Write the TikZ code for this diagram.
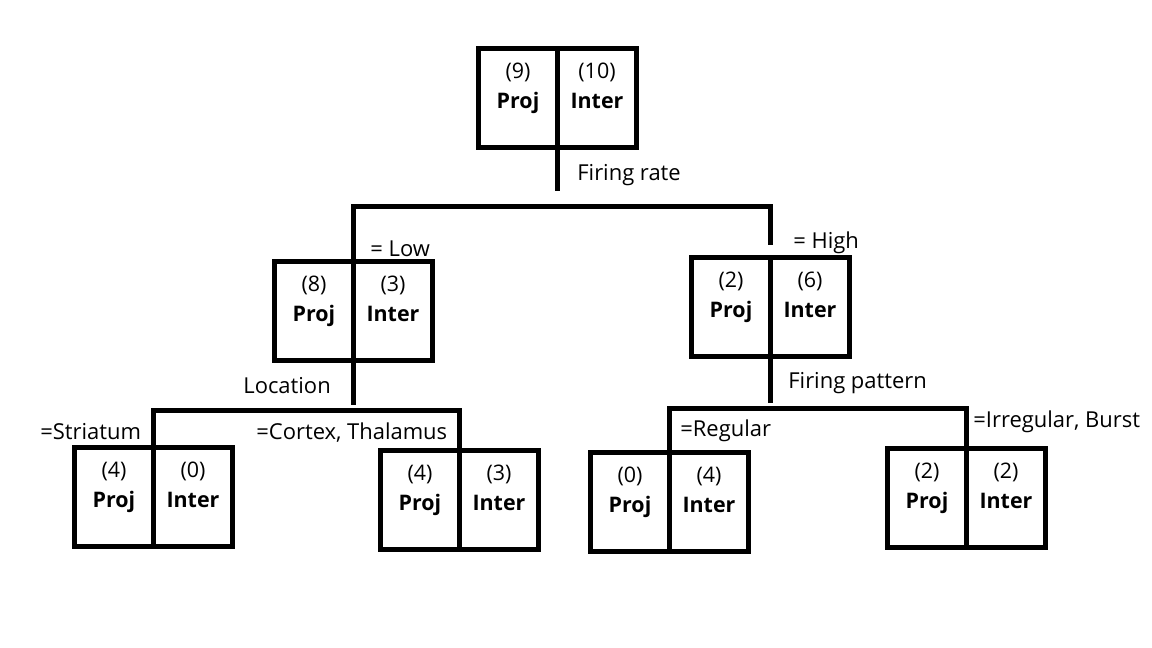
\documentclass[tikz,border=0pt]{standalone}
\usepackage{fontspec}
\setmainfont{Open Sans}
\usetikzlibrary{positioning,calc}
\tikzset{
  half/.style={draw,line width=1mm,outer sep=0pt,minimum width=1.58cm,minimum height=1.98cm,
    align=center,font=\fontsize{12.2}{17}\selectfont},
  lbl/.style={anchor=west,inner sep=0pt,font=\fontsize{12.5}{14}\selectfont},
  edge/.style={line width=1mm}
}
\newcommand{\cellText}[2]{(#1)\\\textbf{#2}\\[-3.5pt]\mbox{}}
\begin{document}
\begin{tikzpicture}[x=0.02cm,y=-0.02cm]
\useasboundingbox (0,0) rectangle (1152,648);
% root
\node[half] (rootP) at (518,98) {\cellText{9}{Proj}};
\node[half,right=0pt of rootP] (rootI) {\cellText{10}{Inter}};
% firing rate
\node[half] (lowP) at (314,311) {\cellText{8}{Proj}};
\node[half,right=0pt of lowP] (lowI) {\cellText{3}{Inter}};
\node[half] (highP) at (731,307) {\cellText{2}{Proj}};
\node[half,right=0pt of highP] (highI) {\cellText{6}{Inter}};
% location
\node[half] (strP) at (114,497) {\cellText{4}{Proj}};
\node[half,right=0pt of strP] (strI) {\cellText{0}{Inter}};
\node[half] (ctxP) at (420,500) {\cellText{4}{Proj}};
\node[half,right=0pt of ctxP] (ctxI) {\cellText{3}{Inter}};
% firing pattern
\node[half] (regP) at (630,502) {\cellText{0}{Proj}};
\node[half,right=0pt of regP] (regI) {\cellText{4}{Inter}};
\node[half] (irrP) at (927,498) {\cellText{2}{Proj}};
\node[half,right=0pt of irrP] (irrI) {\cellText{2}{Inter}};
% branches
\draw[edge] (rootP.south east) -- ++(0,44);
\draw[edge] (lowP.north east) -- ++(0,-55) -| ($(highP.north east)+(0,-13)$);
\draw[edge] (lowP.south east) -- ++(0,45);
\draw[edge] (strP.north east) -- ++(0,-37) -| (ctxP.north east);
\draw[edge] (highP.south east) -- ++(0,47);
\draw[edge] (regP.north east) -- ++(0,-44) -| ($(irrP.north east)+(0,-2)$);
% labels
\node[lbl] (rateLbl) at (577,175) {Firing rate};
\node[lbl] (lowLbl) at (370,249) {= Low};
\node[lbl] (highLbl) at (793,243) {= High};
\node[lbl] (locLbl) at (243,386) {Location};
\node[lbl] (patLbl) at (788,383) {Firing pattern};
\node[lbl] (strLbl) at (40,432) {=Striatum};
\node[lbl] (ctxLbl) at (256,433) {=Cortex, Thalamus};
\node[lbl] (regLbl) at (680,431) {=Regular};
\node[lbl] (irrLbl) at (973,422) {=Irregular, Burst};
\end{tikzpicture}
\end{document}
